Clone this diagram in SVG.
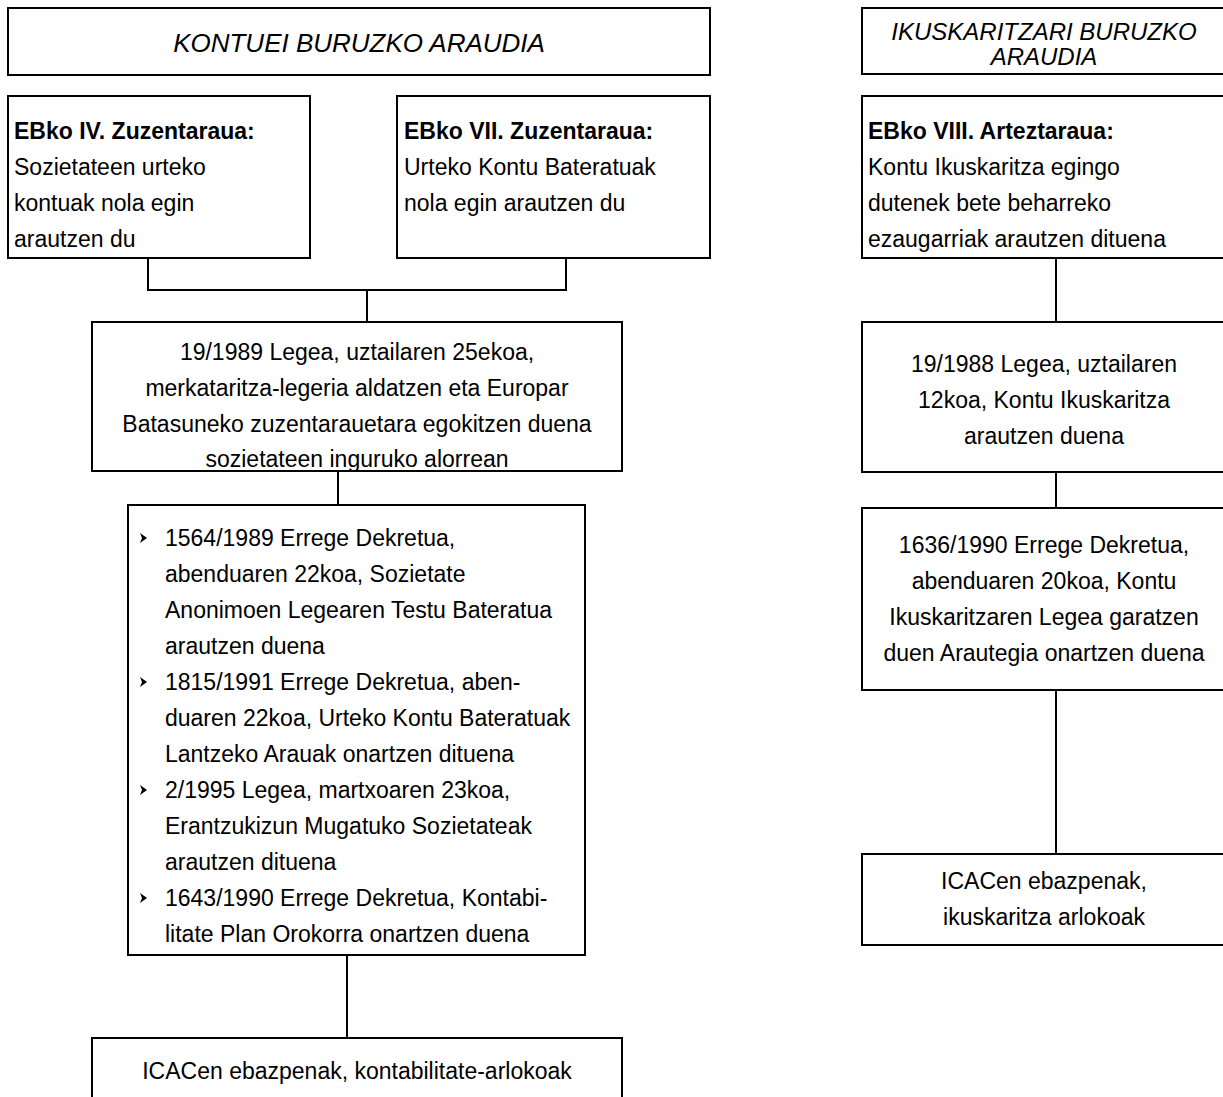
<svg xmlns="http://www.w3.org/2000/svg" width="1223" height="1097" viewBox="0 0 1223 1097">
<style>
.box{fill:#fff;stroke:#000;stroke-width:2}
.ln{fill:none;stroke:#000;stroke-width:2}
text{font-family:"Liberation Sans",Arial,sans-serif;font-size:23px;fill:#000}
.c{text-anchor:middle}
.b{font-weight:bold}
.i{font-style:italic;font-size:24px}
.t1{font-size:26px}
</style>
<defs>
<path id="bullet" d="M0,-5 L7,0 L0,5 L2,0 Z"/>
</defs>
<rect width="1223" height="1097" fill="#fff"/>
<g id="connectors">
<path class="ln" d="M148,258 V290 H566 V258 M367,290 V322"/>
<path class="ln" d="M338,471 V505"/>
<path class="ln" d="M347,955 V1038"/>
<path class="ln" d="M1056,258 V322"/>
<path class="ln" d="M1056,472 V508"/>
<path class="ln" d="M1056,690 V854"/>
</g>
<g id="title-left">
<rect class="box" x="8" y="8" width="702" height="67"/>
<text class="c i t1" x="359" y="52">KONTUEI BURUZKO ARAUDIA</text>
</g>
<g id="title-right">
<rect class="box" x="862" y="8" width="366" height="66"/>
<text class="c i" x="1044" y="40">IKUSKARITZARI BURUZKO</text>
<text class="c i" x="1044" y="65">ARAUDIA</text>
</g>
<g id="eb4">
<rect class="box" x="8" y="96" width="302" height="162"/>
<text x="14" y="139" class="b">EBko IV. Zuzentaraua:</text>
<text x="14" y="175">Sozietateen urteko</text>
<text x="14" y="211">kontuak nola egin</text>
<text x="14" y="247">arautzen du</text>
</g>
<g id="eb7">
<rect class="box" x="397" y="96" width="313" height="162"/>
<text x="404" y="139" class="b">EBko VII. Zuzentaraua:</text>
<text x="404" y="175">Urteko Kontu Bateratuak</text>
<text x="404" y="211">nola egin arautzen du</text>
</g>
<g id="eb8">
<rect class="box" x="862" y="96" width="366" height="162"/>
<text x="868" y="139" class="b">EBko VIII. Arteztaraua:</text>
<text x="868" y="175">Kontu Ikuskaritza egingo</text>
<text x="868" y="211">dutenek bete beharreko</text>
<text x="868" y="247">ezaugarriak arautzen dituena</text>
</g>
<g id="lege1989">
<rect class="box" x="92" y="322" width="530" height="149"/>
<text class="c" x="357" y="360">19/1989 Legea, uztailaren 25ekoa,</text>
<text class="c" x="357" y="396">merkataritza-legeria aldatzen eta Europar</text>
<text class="c" x="357" y="432">Batasuneko zuzentarauetara egokitzen duena</text>
<text class="c" x="357" y="467">sozietateen inguruko alorrean</text>
</g>
<g id="lege1988">
<rect class="box" x="862" y="322" width="366" height="150"/>
<text class="c" x="1044" y="372">19/1988 Legea, uztailaren</text>
<text class="c" x="1044" y="408">12koa, Kontu Ikuskaritza</text>
<text class="c" x="1044" y="444">arautzen duena</text>
</g>
<g id="dekretuak">
<rect class="box" x="128" y="505" width="457" height="450"/>
<use href="#bullet" x="140" y="538"/>
<use href="#bullet" x="140" y="682"/>
<use href="#bullet" x="140" y="790"/>
<use href="#bullet" x="140" y="898"/>
<text x="165" y="546">1564/1989 Errege Dekretua,</text>
<text x="165" y="582">abenduaren 22koa, Sozietate</text>
<text x="165" y="618">Anonimoen Legearen Testu Bateratua</text>
<text x="165" y="654">arautzen duena</text>
<text x="165" y="690">1815/1991 Errege Dekretua, aben-</text>
<text x="165" y="726">duaren 22koa, Urteko Kontu Bateratuak</text>
<text x="165" y="762">Lantzeko Arauak onartzen dituena</text>
<text x="165" y="798">2/1995 Legea, martxoaren 23koa,</text>
<text x="165" y="834">Erantzukizun Mugatuko Sozietateak</text>
<text x="165" y="870">arautzen dituena</text>
<text x="165" y="906">1643/1990 Errege Dekretua, Kontabi-</text>
<text x="165" y="942">litate Plan Orokorra onartzen duena</text>
</g>
<g id="dekretua1636">
<rect class="box" x="862" y="508" width="366" height="182"/>
<text class="c" x="1044" y="553">1636/1990 Errege Dekretua,</text>
<text class="c" x="1044" y="589">abenduaren 20koa, Kontu</text>
<text class="c" x="1044" y="625">Ikuskaritzaren Legea garatzen</text>
<text class="c" x="1044" y="661">duen Arautegia onartzen duena</text>
</g>
<g id="icac-ikus">
<rect class="box" x="862" y="854" width="366" height="91"/>
<text class="c" x="1044" y="889">ICACen ebazpenak,</text>
<text class="c" x="1044" y="925">ikuskaritza arlokoak</text>
</g>
<g id="icac-kont">
<rect class="box" x="92" y="1038" width="530" height="72"/>
<text class="c" x="357" y="1079">ICACen ebazpenak, kontabilitate-arlokoak</text>
</g>
</svg>
